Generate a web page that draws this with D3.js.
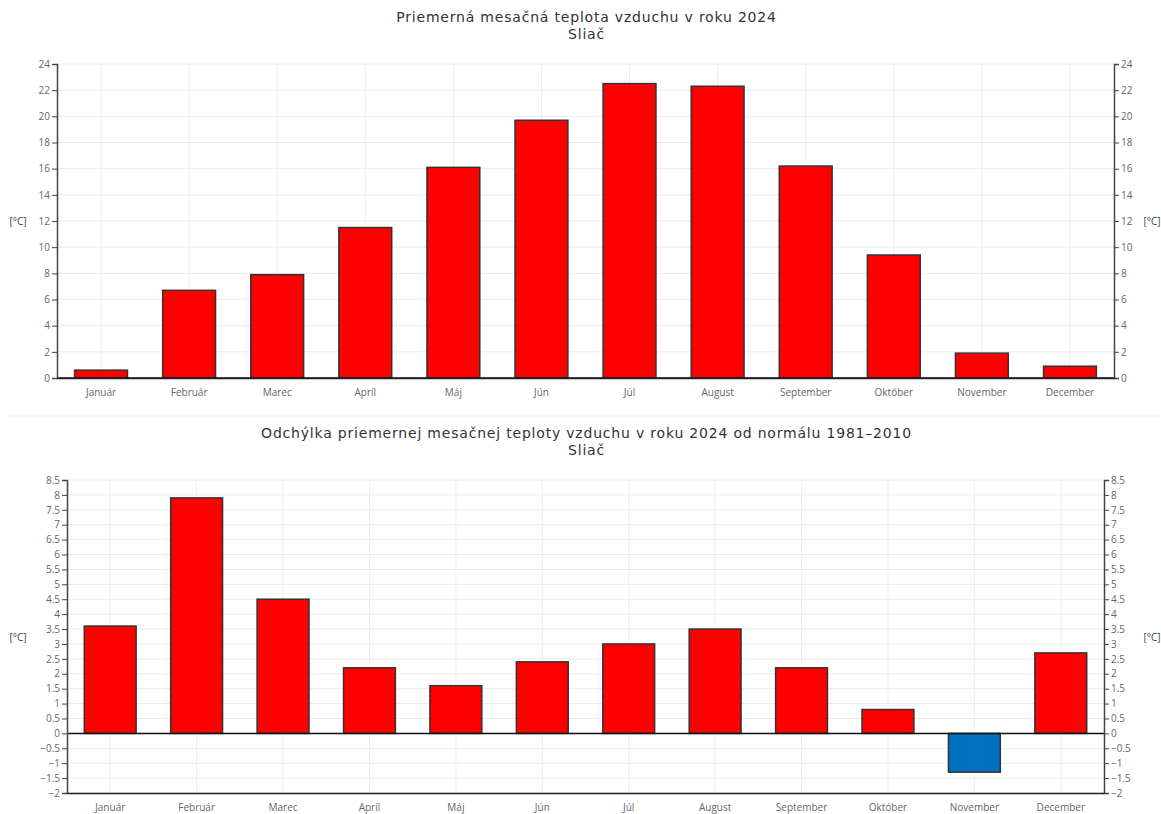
<!DOCTYPE html>
<html lang="sk">
<head>
  <meta charset="UTF-8">
  <title>Sliač 2024</title>
  <style>
    body { margin: 0; background: #fff; }
    text { font-family: "Open Sans", "DejaVu Sans", sans-serif; }
    text.title { font-family: "DejaVu Sans", sans-serif; letter-spacing: 0.8px; }
  </style>
</head>
<body>
  <svg id="svg" width="1161" height="814"></svg>
  <script src="https://d3js.org/d3.v7.min.js"></script>
  <script>
    const months = ['Január', 'Február', 'Marec', 'Apríl', 'Máj', 'Jún', 'Júl', 'August', 'September', 'Október', 'November', 'December']
    const temps = [0.6, 6.7, 7.9, 11.5, 16.1, 19.7, 22.5, 22.3, 16.2, 9.4, 1.9, 0.9]
    const anomalies = [3.6, 7.9, 4.5, 2.2, 1.6, 2.4, 3.0, 3.5, 2.2, 0.8, -1.3, 2.7]
    const tempTicks = d3.range(0, 25, 2)
    const anomTicks = d3.range(-2, 8.51, 0.5)

    const svg = d3.select('#svg')

    function drawChart(cfg) {
      const g = svg.append('g')
      const x = d3.scaleBand()
        .domain(months)
        .range([cfg.left, cfg.right])
        .paddingInner(0.4)
        .paddingOuter(0.2)
      const y = d3.scaleLinear()
        .domain(cfg.domain)
        .range([cfg.bottom, cfg.top])

      // grid
      g.selectAll('.hgrid')
        .data(cfg.ticks)
        .enter()
        .append('line')
        .attr('x1', cfg.left).attr('x2', cfg.right)
        .attr('y1', d => y(d)).attr('y2', d => y(d))
        .attr('stroke', '#eaeaea')
      g.selectAll('.vgrid')
        .data(months)
        .enter()
        .append('line')
        .attr('x1', d => x(d) + x.bandwidth() / 2)
        .attr('x2', d => x(d) + x.bandwidth() / 2)
        .attr('y1', cfg.top).attr('y2', cfg.bottom)
        .attr('stroke', '#eeeeee')

      // bars
      g.selectAll('rect')
        .data(cfg.values)
        .enter()
        .append('rect')
        .attr('x', (d, i) => x(months[i]))
        .attr('width', x.bandwidth())
        .attr('y', d => y(Math.max(0, d)))
        .attr('height', d => Math.abs(y(d) - y(0)))
        .attr('fill', d => d < 0 ? '#0070c0' : '#ff0000')
        .attr('stroke', '#333')
        .attr('stroke-width', 1.5)

      // zero line
      g.append('line')
        .attr('x1', cfg.left).attr('x2', cfg.right)
        .attr('y1', y(0)).attr('y2', y(0))
        .attr('stroke', '#111').attr('stroke-width', 1.5)

      const fmt = d => String(d).replace('-', '\u2212')
      const leftAxis = d3.axisLeft(y).tickValues(cfg.ticks).tickSize(5).tickPadding(2).tickFormat(fmt)
      const rightAxis = d3.axisRight(y).tickValues(cfg.ticks).tickSize(5).tickPadding(2).tickFormat(fmt)
      const bottomAxis = d3.axisBottom(x).tickSize(0).tickPadding(11)

      const styleAxis = a => {
        a.select('.domain').attr('stroke', '#444').attr('stroke-width', 1.5)
        a.selectAll('.tick line').attr('stroke', '#444')
        a.selectAll('text').attr('fill', '#666').style('font-size', '10px')
      }
      g.append('g').attr('transform', `translate(${cfg.left}, 0)`).call(leftAxis).call(styleAxis)
      g.append('g').attr('transform', `translate(${cfg.right}, 0)`).call(rightAxis).call(styleAxis)
      g.append('g').attr('transform', `translate(0, ${cfg.bottom})`).call(bottomAxis).call(styleAxis)
        .call(a => a.select('.domain').attr('stroke', '#222'))

      // titles
      g.append('text').attr('class', 'title')
        .attr('x', (cfg.left + cfg.right) / 2 + 1).attr('y', cfg.titleY)
        .attr('text-anchor', 'middle').attr('fill', '#333').style('font-size', '14px')
        .text(cfg.title)
      g.append('text').attr('class', 'title')
        .attr('x', (cfg.left + cfg.right) / 2 + 1).attr('y', cfg.titleY + 17)
        .attr('text-anchor', 'middle').attr('fill', '#333').style('font-size', '14px')
        .text('Sliač')

      // units
      const mid = (cfg.top + cfg.bottom) / 2 + 4
      g.append('text').attr('x', 18).attr('y', mid).attr('text-anchor', 'middle')
        .attr('fill', '#444').style('font-size', '10px').text('[°C]')
      g.append('text').attr('x', 1152).attr('y', mid).attr('text-anchor', 'middle')
        .attr('fill', '#444').style('font-size', '10px').text('[°C]')
    }

    drawChart({
      values: temps, domain: [0, 24], ticks: tempTicks,
      left: 57, right: 1114, top: 64, bottom: 378,
      titleY: 22, title: 'Priemerná mesačná teplota vzduchu v roku 2024'
    })

    svg.append('line')
      .attr('x1', 10).attr('x2', 1158).attr('y1', 416).attr('y2', 416)
      .attr('stroke', '#eeeeee').attr('stroke-width', 1.5)

    drawChart({
      values: anomalies, domain: [-2, 8.5], ticks: anomTicks,
      left: 67, right: 1104, top: 480, bottom: 793,
      titleY: 438, title: 'Odchýlka priemernej mesačnej teploty vzduchu v roku 2024 od normálu 1981–2010'
    })
  </script>
</body>
</html>
